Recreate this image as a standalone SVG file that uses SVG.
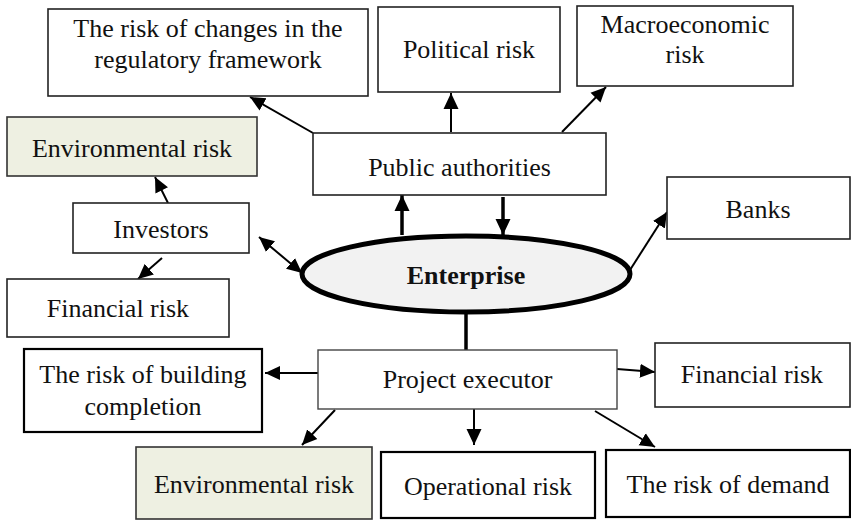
<svg xmlns="http://www.w3.org/2000/svg" width="851" height="520" viewBox="0 0 851 520">
<style>
.box{fill:#fff;stroke:#222;stroke-width:1.6}
.boxb{fill:#fff;stroke:#000;stroke-width:2.2}
.env{fill:#eef0e2;stroke:#333;stroke-width:1.6}
.t{font-family:"Liberation Serif","Times New Roman",serif;font-size:26px;fill:#111;text-anchor:middle}
.b{font-weight:bold}
.c{stroke:#000;stroke-width:2;fill:none}
.ct{stroke:#000;stroke-width:3.5;fill:none}
</style>
<defs>
<marker id="ah" markerUnits="userSpaceOnUse" markerWidth="16" markerHeight="16" viewBox="0 0 16 16" refX="15" refY="8" orient="auto-start-reverse">
<path d="M0,1 L15,8 L0,15 z" fill="#000"/>
</marker>
<marker id="ahb" markerUnits="userSpaceOnUse" markerWidth="18" markerHeight="18" viewBox="0 0 18 18" refX="16" refY="9" orient="auto">
<path d="M0,1.5 L16,9 L0,16.5 z" fill="#000"/>
</marker>
</defs>
<g id="connectors">
<line class="c" x1="313" y1="133" x2="250" y2="97" marker-end="url(#ah)"/>
<line class="c" x1="451" y1="132" x2="451" y2="93" marker-end="url(#ahb)"/>
<line class="c" x1="562" y1="132" x2="606" y2="87" marker-end="url(#ah)"/>
<line class="ct" x1="503" y1="197" x2="503" y2="235" marker-end="url(#ahb)"/>
<line class="ct" x1="402" y1="235" x2="402" y2="195" marker-end="url(#ahb)"/>
<line class="c" x1="630" y1="270" x2="667" y2="212" marker-end="url(#ah)"/>
<line class="c" x1="168" y1="203" x2="155" y2="177" marker-end="url(#ah)"/>
<line class="c" x1="162" y1="258" x2="138" y2="279" marker-end="url(#ah)"/>
<line class="c" x1="259" y1="237" x2="302" y2="273" marker-start="url(#ah)" marker-end="url(#ah)"/>
<line class="ct" x1="466" y1="313" x2="466" y2="350"/>
<line class="c" x1="318" y1="373" x2="265" y2="373" marker-end="url(#ah)"/>
<line class="c" x1="335" y1="410" x2="302" y2="445" marker-end="url(#ah)"/>
<line class="c" x1="474" y1="409" x2="474" y2="445" marker-end="url(#ahb)"/>
<line class="c" x1="595" y1="411" x2="655" y2="447" marker-end="url(#ah)"/>
<line class="c" x1="617" y1="369" x2="655" y2="372" marker-end="url(#ah)"/>
</g>
<g id="regulatory"><rect class="box" x="48" y="9" width="320" height="87"/><text class="t" x="208" y="37">The risk of changes in the</text><text class="t" x="208" y="68">regulatory framework</text></g>
<g id="political"><rect class="box" x="378" y="7" width="182" height="85"/><text class="t" x="469" y="58">Political risk</text></g>
<g id="macro"><rect class="box" x="577" y="6" width="216" height="80"/><text class="t" x="685" y="33">Macroeconomic</text><text class="t" x="685" y="63">risk</text></g>
<g id="env-top"><rect class="env" x="7" y="117" width="250" height="59"/><text class="t" x="132" y="157">Environmental risk</text></g>
<g id="public"><rect class="box" x="313" y="133" width="293" height="62"/><text class="t" x="459.5" y="176">Public authorities</text></g>
<g id="investors"><rect class="box" x="73" y="203" width="176" height="50"/><text class="t" x="161" y="238">Investors</text></g>
<g id="banks"><rect class="box" x="667" y="177" width="183" height="62"/><text class="t" x="758" y="218">Banks</text></g>
<g id="enterprise"><ellipse cx="466" cy="274" rx="164" ry="38" fill="#f2f2f2" stroke="#000" stroke-width="5"/><text class="t b" x="466" y="284">Enterprise</text></g>
<g id="fin-left"><rect class="box" x="7" y="279" width="222" height="58"/><text class="t" x="118" y="317">Financial risk</text></g>
<g id="project"><rect class="box" x="318" y="350" width="299" height="59" style="stroke:#444;stroke-width:1.4"/><text class="t" x="467.5" y="388">Project executor</text></g>
<g id="building"><rect class="boxb" x="24" y="349" width="238" height="83"/><text class="t" x="143" y="383">The risk of building</text><text class="t" x="143" y="415">completion</text></g>
<g id="fin-right"><rect class="box" x="655" y="343" width="195" height="64"/><text class="t" x="752" y="383">Financial risk</text></g>
<g id="env-bottom"><rect class="env" x="136" y="447" width="236" height="72"/><text class="t" x="254" y="493">Environmental risk</text></g>
<g id="operational"><rect class="boxb" x="381" y="452" width="214" height="66"/><text class="t" x="488" y="495">Operational risk</text></g>
<g id="demand"><rect class="boxb" x="606" y="450" width="244" height="67"/><text class="t" x="728" y="493">The risk of demand</text></g>
</svg>
